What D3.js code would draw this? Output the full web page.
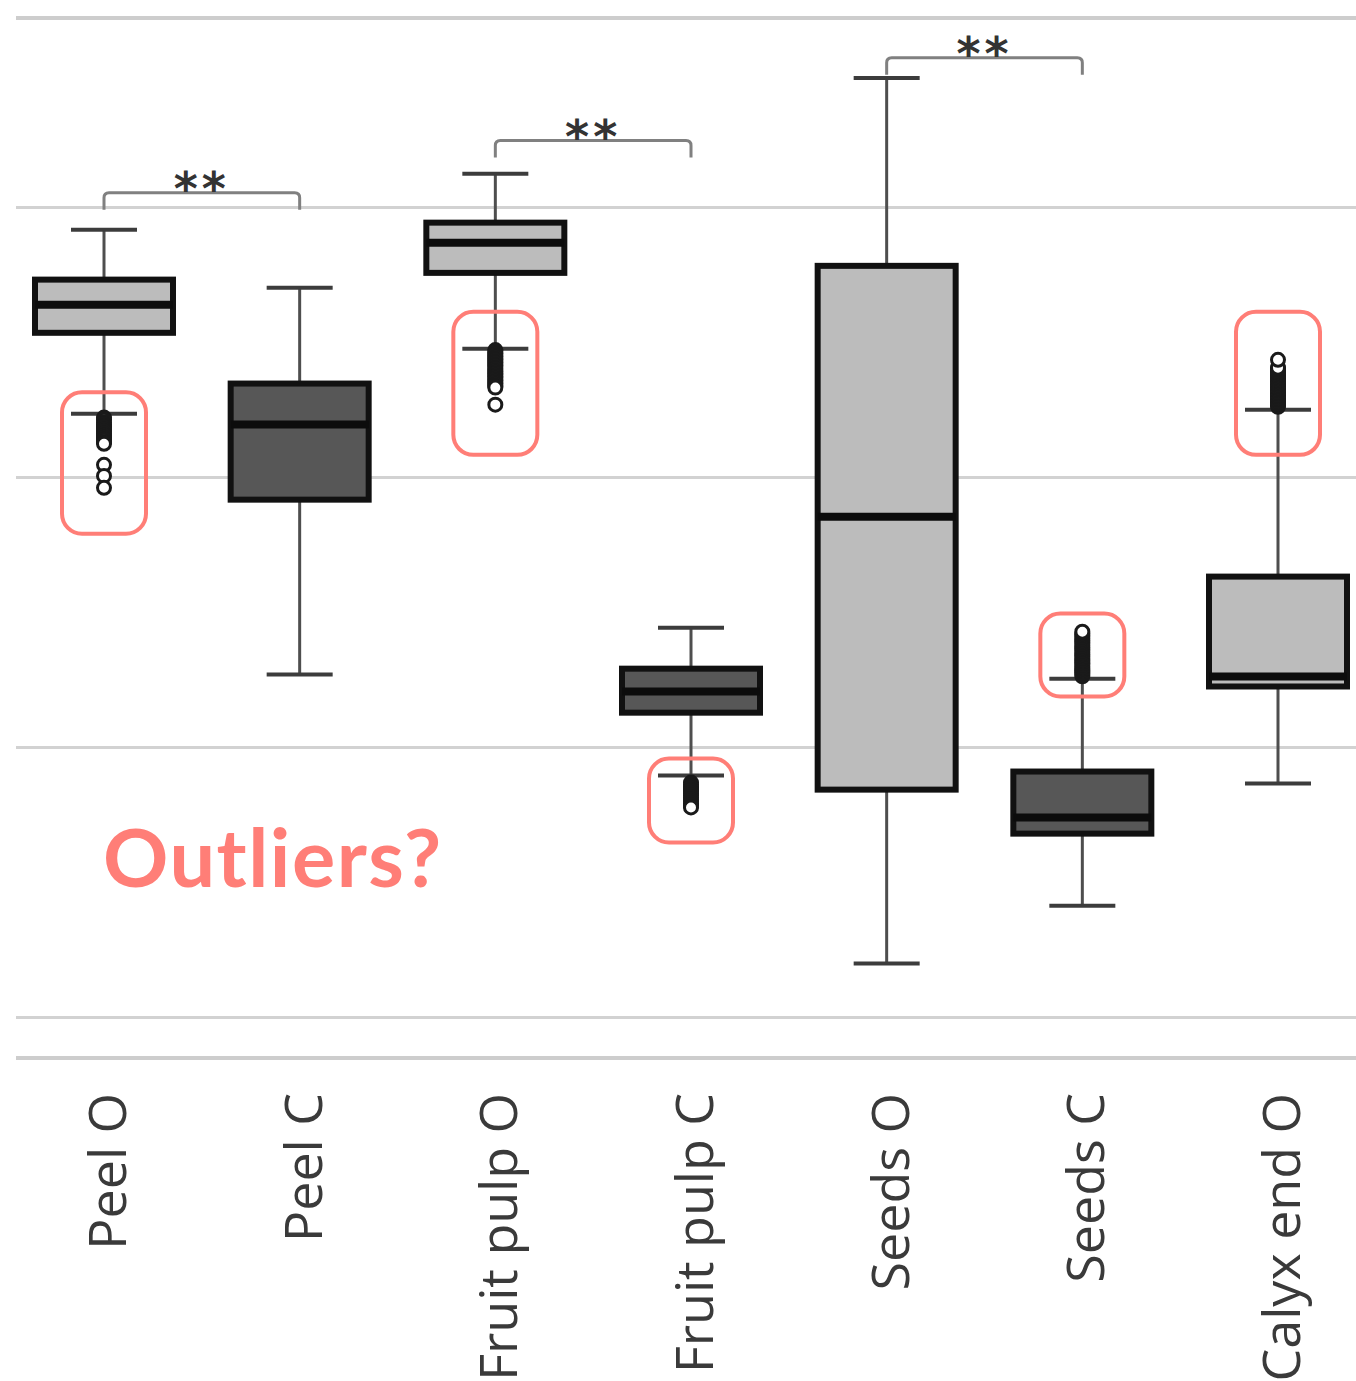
<!DOCTYPE html>
<html>
<head>
<meta charset="utf-8">
<script src="https://cdn.jsdelivr.net/npm/d3@7"></script>
<style>
  body { margin: 0; background: #fff; }
  svg { display: block; }
</style>
</head>
<body>
<div id="chart"></div>
<script>
// values (gridline spacing = 1 unit)
const categories   = ['Peel O', 'Peel C', 'Fruit pulp O', 'Fruit pulp C', 'Seeds O', 'Seeds C', 'Calyx end O'];
const groups       = ['O', 'C', 'O', 'C', 'O', 'C', 'O'];
const upperWhisker = [2.916, 2.701, 3.123, 1.442, 3.478, 1.253, 2.249];
const q3           = [2.731, 2.346, 2.942, 1.290, 2.782, 0.909, 1.631];
const median       = [2.638, 2.194, 2.868, 1.205, 1.853, 0.739, 1.261];
const q1           = [2.534, 1.916, 2.756, 1.127, 0.842, 0.679, 1.224];
const lowerWhisker = [2.234, 1.268, 2.475, 0.894, 0.198, 0.412, 0.865];
const outliers = [
  [2.220, 2.212, 2.203, 2.195, 2.189, 2.183, 2.175, 2.168, 2.160, 2.153, 2.145, 2.138, 2.130, 2.123, 2.045, 2.004, 1.960],
  [],
  [2.470, 2.464, 2.458, 2.453, 2.447, 2.442, 2.436, 2.431, 2.425, 2.420, 2.414, 2.409, 2.403, 2.398, 2.392,
   2.386, 2.381, 2.375, 2.370, 2.364, 2.358, 2.353, 2.347, 2.342, 2.336, 2.331, 2.268],
  [0.868, 0.861, 0.854, 0.848, 0.841, 0.835, 0.828, 0.820, 0.813, 0.806, 0.798, 0.791, 0.783, 0.776],
  [],
  [1.262, 1.268, 1.275, 1.281, 1.287, 1.292, 1.298, 1.305, 1.311, 1.318, 1.324, 1.330, 1.337, 1.343, 1.350,
   1.356, 1.363, 1.369, 1.376, 1.382, 1.389, 1.395, 1.402, 1.408, 1.415, 1.421, 1.427],
  [2.260, 2.266, 2.272, 2.278, 2.283, 2.289, 2.294, 2.300, 2.305, 2.311, 2.316, 2.322, 2.327, 2.332, 2.338,
   2.343, 2.349, 2.355, 2.360, 2.366, 2.372, 2.377, 2.383, 2.388, 2.394, 2.400, 2.405, 2.434]
];
const gridValues = [0, 1, 2, 3];

// significance brackets
const sigFrom  = ['Peel O', 'Fruit pulp O', 'Seeds O'];
const sigTo    = ['Peel C', 'Fruit pulp C', 'Seeds C'];
const sigLevel = [3.053, 3.246, 3.553];
const sigLabel = ['**', '**', '**'];

// red annotation boxes
const noteCats = ['Peel O', 'Fruit pulp O', 'Fruit pulp C', 'Seeds C', 'Calyx end O'];
const noteHi   = [2.314, 2.612, 0.957, 1.494, 2.612];
const noteLo   = [1.790, 2.082, 0.646, 1.187, 2.082];
const noteText = 'Outliers?';

const width = 1356, height = 1381;
const boxW = 138, capW = 66, noteW = 84;
const red = '#ff7e77';

const svg = d3.select('#chart').append('svg')
  .attr('width', width)
  .attr('height', height);

// scales
const x = d3.scalePoint().domain(categories).range([104, 1278]);
const y = d3.scaleLinear().domain([-0.152, 3.70]).range([1058, 18]);
const fill = d3.scaleOrdinal().domain(['O', 'C']).range(['#bcbcbc', '#575757']);

// gridlines
const grid = svg.append('g')
  .attr('transform', 'translate(16,0)')
  .call(d3.axisLeft(y).tickValues(gridValues).tickSize(-(width - 16)).tickFormat(''));
grid.select('.domain').remove();
grid.selectAll('.tick line').attr('stroke', '#d2d2d2').attr('stroke-width', 3);

// frame lines top and bottom
svg.selectAll('line.frame')
  .data(y.domain())
  .enter().append('line')
  .attr('class', 'frame')
  .attr('x1', 16).attr('x2', width)
  .attr('y1', d => y(d)).attr('y2', d => y(d))
  .attr('stroke', '#cdcdcd')
  .attr('stroke-width', 4);

const data = categories.map((c, i) => ({
  cat: c, grp: groups[i],
  hi: upperWhisker[i], q3: q3[i], med: median[i], q1: q1[i], lo: lowerWhisker[i],
  out: outliers[i]
}));

const box = svg.selectAll('g.box')
  .data(data)
  .enter().append('g')
  .attr('class', 'box')
  .attr('transform', d => 'translate(' + x(d.cat) + ',0)');

// whisker stems
box.append('line')
  .attr('y1', d => y(d.hi)).attr('y2', d => y(d.lo))
  .attr('stroke', '#4e4e4e').attr('stroke-width', 3);

// caps
box.selectAll('line.cap')
  .data(d => [d.hi, d.lo])
  .enter().append('line')
  .attr('class', 'cap')
  .attr('x1', -capW / 2).attr('x2', capW / 2)
  .attr('y1', d => y(d)).attr('y2', d => y(d))
  .attr('stroke', '#3c3c3c').attr('stroke-width', 4);

// outliers
box.selectAll('circle')
  .data(d => d.out)
  .enter().append('circle')
  .attr('cy', d => y(d))
  .attr('r', 6.5)
  .attr('fill', '#fff')
  .attr('stroke', '#1a1a1a')
  .attr('stroke-width', 3);

// boxes
box.append('rect')
  .attr('x', -boxW / 2)
  .attr('y', d => y(d.q3))
  .attr('width', boxW)
  .attr('height', d => y(d.q1) - y(d.q3))
  .attr('fill', d => fill(d.grp))
  .attr('stroke', '#111')
  .attr('stroke-width', 6);

box.append('line')
  .attr('x1', -boxW / 2).attr('x2', boxW / 2)
  .attr('y1', d => y(d.med)).attr('y2', d => y(d.med))
  .attr('stroke', '#0c0c0c').attr('stroke-width', 8);

// significance brackets
const sig = svg.selectAll('g.sig')
  .data(sigFrom.map((f, i) => ({ a: f, b: sigTo[i], v: sigLevel[i], t: sigLabel[i] })))
  .enter().append('g')
  .attr('class', 'sig');

sig.append('path')
  .attr('d', d => {
    const x0 = x(d.a), x1 = x(d.b), yy = y(d.v), r = 5, drop = 17;
    return 'M' + x0 + ',' + (yy + drop) + 'V' + (yy + r) + 'Q' + x0 + ',' + yy + ' ' + (x0 + r) + ',' + yy +
      'H' + (x1 - r) + 'Q' + x1 + ',' + yy + ' ' + x1 + ',' + (yy + r) + 'V' + (yy + drop);
  })
  .attr('fill', 'none')
  .attr('stroke', '#808080')
  .attr('stroke-width', 3);

sig.append('text')
  .attr('x', d => (x(d.a) + x(d.b)) / 2)
  .attr('y', d => y(d.v) + 12)
  .attr('text-anchor', 'middle')
  .attr('font-family', 'DejaVu Sans')
  .attr('font-weight', 'bold')
  .attr('font-size', 46)
  .attr('letter-spacing', 4)
  .attr('fill', '#333')
  .text(d => d.t);

// category labels
svg.selectAll('text.cat')
  .data(categories)
  .enter().append('text')
  .attr('class', 'cat')
  .attr('transform', d => 'translate(' + (x(d) + 22) + ',1093) rotate(-90)')
  .attr('text-anchor', 'end')
  .attr('font-family', 'Open Sans, Noto Sans, sans-serif')
  .attr('font-size', 52)
  .attr('fill', '#3a3a3a')
  .text(d => d);

// annotation boxes
svg.selectAll('rect.note')
  .data(noteCats.map((c, i) => ({ cat: c, hi: noteHi[i], lo: noteLo[i] })))
  .enter().append('rect')
  .attr('class', 'note')
  .attr('x', d => x(d.cat) - noteW / 2)
  .attr('y', d => y(d.hi))
  .attr('width', noteW)
  .attr('height', d => y(d.lo) - y(d.hi))
  .attr('rx', 20)
  .attr('fill', 'none')
  .attr('stroke', red)
  .attr('stroke-width', 4);

svg.append('text')
  .attr('x', 103)
  .attr('y', 887)
  .attr('font-family', 'Lato, sans-serif')
  .attr('font-weight', 'bold')
  .attr('font-size', 81)
  .attr('letter-spacing', 1.5)
  .attr('fill', red)
  .text(noteText);
</script>
</body>
</html>
